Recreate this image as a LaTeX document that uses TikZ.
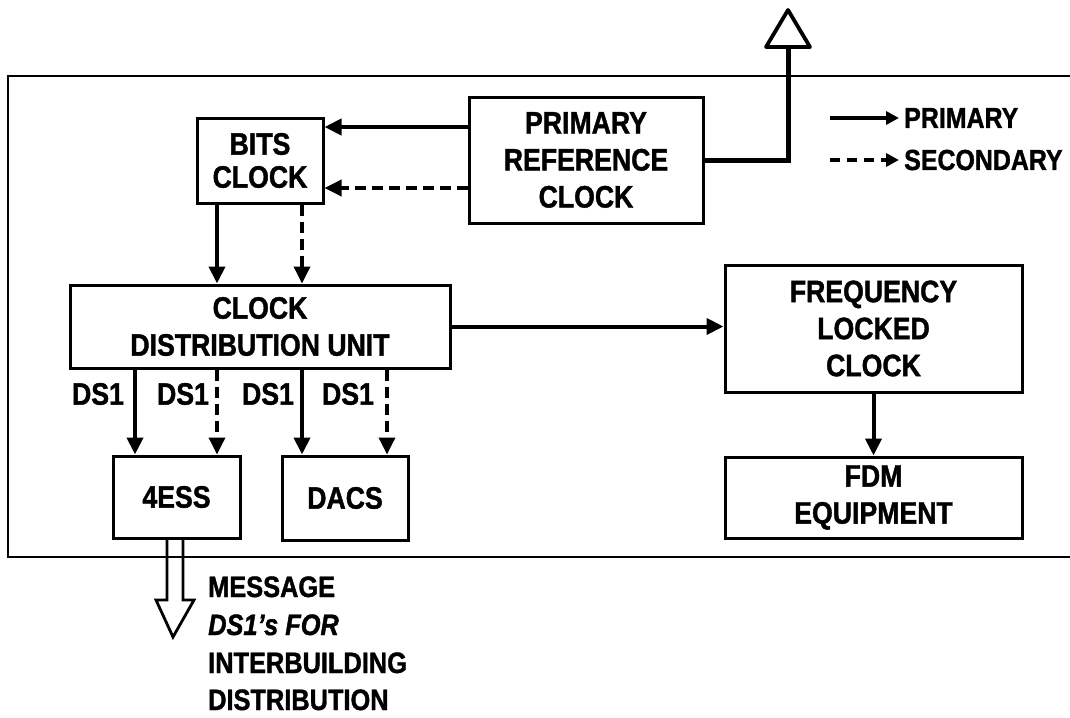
\documentclass[tikz,border=0pt]{standalone}
\usepackage{fontspec}
\setmainfont{Liberation Sans}[FakeStretch=0.86, BoldFeatures={FakeBold=1.3}, BoldItalicFeatures={FakeBold=1.3}]
\usetikzlibrary{arrows.meta}
\begin{document}
\begin{tikzpicture}[x=1pt,y=-1pt,
  every node/.style={font=\bfseries\fontsize{31}{37}\selectfont, inner sep=0pt},
  box/.style={draw, line width=3pt, align=center},
  prim/.style={line width=4pt, -{Triangle[length=17pt,width=16pt]}},
  sec/.style={line width=3.5pt, dash pattern=on 11pt off 6pt, -{Triangle[length=17pt,width=16pt]}},
  legtxt/.style={anchor=west, font=\bfseries\fontsize{29}{32}\selectfont},
  legprim/.style={line width=3.5pt, -{Triangle[length=13pt,width=13pt]}},
  legsec/.style={line width=3.5pt, dash pattern=on 10pt off 7pt, -{Triangle[length=13pt,width=13pt]}},
  msg/.style={anchor=base west, font=\bfseries\fontsize{29.5}{38}\selectfont},
  frame/.style={line width=2.5pt},
  hollow/.style={line width=2.8pt, line join=miter}]
\useasboundingbox (0,0) rectangle (1070,717);

% outer frame (open at right)
\draw[frame] (1070,76) -- (8,76) -- (8,557) -- (1070,557);

% boxes
\node[box, minimum width=234pt, minimum height=126pt] (prc) at (586,160) {PRIMARY\\REFERENCE\\CLOCK};
\node[box, minimum width=126pt, minimum height=85pt, font=\bfseries\fontsize{31}{33}\selectfont] (bits) at (260,160.5) {BITS\\CLOCK};
\node[box, minimum width=380pt, minimum height=83pt] (cdu) at (260,326.5) {CLOCK\\DISTRIBUTION UNIT};
\node[box, minimum width=297pt, minimum height=127pt] (flc) at (873.5,328.5) {FREQUENCY\\LOCKED\\CLOCK};
\node[box, minimum width=297pt, minimum height=81pt] (fdm) at (873.5,497.5) {FDM\\EQUIPMENT};
\node[box, minimum width=127pt, minimum height=82pt] (ess) at (176.5,497) {4ESS};
\node[box, minimum width=126pt, minimum height=84pt] (dacs) at (345,498) {DACS};

% helper coordinates
\coordinate (xc) at (135,0);
\coordinate (xa) at (217,0);
\coordinate (xb) at (302,0);
\coordinate (xd) at (387,0);
\coordinate (ya) at (0,127);
\coordinate (yb) at (0,188);

% PRC -> BITS
\draw[prim] (prc.west |- ya) -- (bits.east |- ya);
\draw[sec] (prc.west |- yb) -- (bits.east |- yb);

% BITS -> CDU
\draw[prim] (bits.south -| xa) -- (cdu.north -| xa);
\draw[sec] (bits.south -| xb) -- (cdu.north -| xb);

% CDU -> FLC -> FDM
\draw[prim] (cdu.east) -- (flc.west |- cdu.east);
\draw[prim] (flc.south) -- (fdm.north);

% DS1 links
\draw[prim] (cdu.south -| xc) -- (ess.north -| xc);
\draw[sec] (cdu.south -| xa) -- (ess.north -| xa);
\draw[prim] (cdu.south -| xb) -- (dacs.north -| xb);
\draw[sec] (cdu.south -| xd) -- (dacs.north -| xd);
\node (d1) at (98,394) {DS1};
\node (d2) at (183,394) {DS1};
\node (d3) at (268,394) {DS1};
\node (d4) at (348,394) {DS1};

% upward hollow arrow from PRC
\coordinate (upbase) at (788,47);
\draw[line width=5pt] (prc.east) -| (upbase);
\draw[line width=3.8pt, line join=round, fill=white] (766,47) -- (788,10) -- (810,47) -- cycle;

% downward hollow arrow from 4ESS
\coordinate (hl) at (167,0);
\coordinate (hr) at (183,0);
\draw[hollow] (ess.south -| hl) -- (167,600) -- (156,600) -- (173,637) -- (194,600) -- (183,600) -- (ess.south -| hr);

\node[msg] (m1) at (208,597) {MESSAGE};
\node[msg] (m2) at (208,635) {\itshape DS1’s FOR};
\node[msg] (m3) at (208,673) {INTERBUILDING};
\node[msg] (m4) at (208,710) {DISTRIBUTION};

% legend
\coordinate (l1) at (830,118);
\coordinate (l2) at (830,160);
\node[legtxt] (lp) at (904,118) {PRIMARY};
\node[legtxt] (ls) at (904,160) {SECONDARY};
\draw[legprim] (l1) -- ([xshift=-5pt]lp.west);
\draw[legsec] (l2) -- ([xshift=-5pt]ls.west);
\end{tikzpicture}
\end{document}
